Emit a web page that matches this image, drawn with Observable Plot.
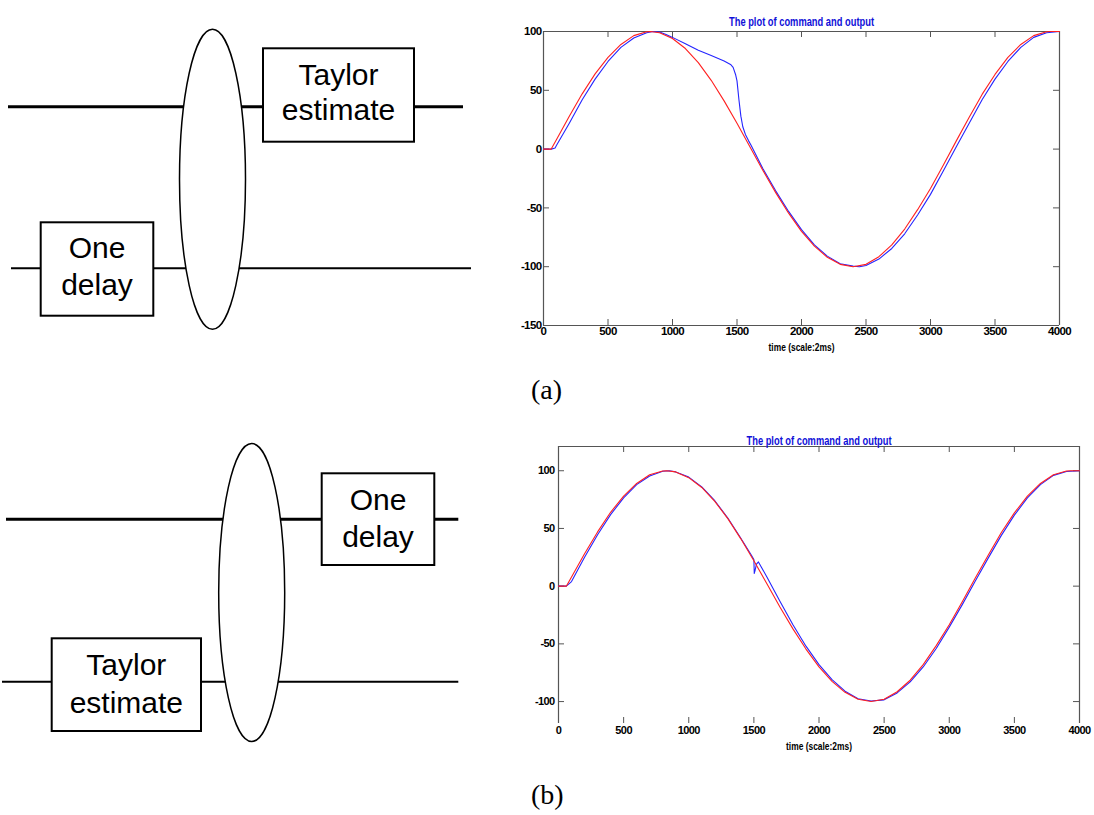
<!DOCTYPE html>
<html><head><meta charset="utf-8">
<script src="https://cdn.jsdelivr.net/npm/d3@7"></script>
<script src="https://cdn.jsdelivr.net/npm/@observablehq/plot@0.6"></script>
<style>
html,body{margin:0;padding:0;background:#fff;}
#page{position:relative;width:1094px;height:815px;overflow:hidden;background:#fff;}
#page > svg, #page > div{position:absolute;}
.cap{font-family:"Liberation Serif","Times New Roman",serif;font-size:28px;color:#000;line-height:1;}
</style></head><body><div id="page"></div>
<script>
// ---------- data ----------
const commandTime  = [0, 60, 100, 200, 300, 400, 500, 600, 700, 800, 830, 900, 1000, 1100, 1200, 1300, 1400, 1500, 1600, 1700, 1800, 1900, 2000, 2100, 2200, 2300, 2400, 2500, 2600, 2700, 2800, 2900, 3000, 3100, 3200, 3300, 3400, 3500, 3600, 3700, 3800, 3900, 3930, 4000];
const commandValue = [0, 0, 8, 28, 47, 64, 78, 89, 96.5, 99.8, 100, 99, 94, 85.5, 73.5, 58.5, 41, 22, 2, -18, -37, -54.5, -70, -82.5, -92, -98, -100, -98, -91.5, -81.5, -68, -51.5, -33.5, -13.5, 7, 27, 46.5, 63.5, 78, 89, 96.5, 99.8, 100, 100];

// output of structure (a)
const outputATime  = [0, 60, 90, 100, 200, 300, 400, 500, 600, 700, 800, 850, 900, 950, 1000, 1100, 1200, 1300, 1400, 1450, 1470, 1490, 1500, 1515, 1530, 1545, 1565, 1590, 1610, 1700, 1800, 1900, 2000, 2100, 2200, 2300, 2400, 2450, 2500, 2600, 2700, 2800, 2900, 3000, 3100, 3200, 3300, 3400, 3500, 3600, 3700, 3800, 3900, 4000];
const outputAValue = [0, 0, 1, 3, 22, 42, 59.5, 74.5, 86.5, 94.5, 99, 100, 99.5, 97.5, 95, 89.5, 84, 79.5, 75, 72, 69.5, 63, 58, 42, 28, 19, 12.5, 7, 3, -16.5, -35.5, -53, -68.5, -81.5, -91, -97.5, -99.5, -100, -99, -93.5, -84.5, -72, -56, -38.5, -18.5, 2, 22, 42, 59.5, 74.5, 86.5, 95, 99, 100];

// output of structure (b)
const outputBTime  = [0, 60, 100, 200, 300, 400, 500, 600, 700, 800, 850, 900, 1000, 1100, 1200, 1300, 1400, 1480, 1500, 1503, 1510, 1520, 1535, 1560, 1600, 1700, 1800, 1900, 2000, 2100, 2200, 2300, 2400, 2500, 2600, 2700, 2800, 2900, 3000, 3100, 3200, 3300, 3400, 3500, 3600, 3700, 3800, 3900, 4000];
const outputBValue = [0, 0, 4, 25, 44.5, 62, 76.5, 88, 95.5, 99.5, 100, 99, 94.5, 86, 74, 59, 41.5, 27, 23, 11, 14, 19, 21, 16, 8, -13, -33.5, -52, -68, -81, -91, -97.5, -99.5, -98.5, -92.5, -83, -70, -54, -35.5, -16, 4.5, 24.5, 44, 61.5, 76.5, 88, 96, 99.3, 100];

const xTicks  = [0, 500, 1000, 1500, 2000, 2500, 3000, 3500, 4000];
const yTicksA = [-150, -100, -50, 0, 50, 100];
const yTicksB = [-100, -50, 0, 50, 100];
const titleText  = "The plot of command and output";
const xLabelText = "time (scale:2ms)";
const captions   = ["(a)", "(b)"];
const blockTaylor = ["Taylor", "estimate"];
const blockDelay  = ["One", "delay"];

// ---------- charts ----------
const page = document.getElementById("page");

function makeChart(o) {
  const cmd = commandTime.map((t, i) => ({t, v: commandValue[i]}));
  const out = o.outT.map((t, i) => ({t, v: o.outV[i]}));
  const pw = o.width - o.ml - o.mr, ph = o.height - o.mt - o.mb;
  const axisCol = "#555";
  const fnt = {fontFamily: "Liberation Sans, Arial, sans-serif", fontWeight: "bold"};
  const marks = [
    Plot.ruleX([0, 4000], {stroke: axisCol, strokeWidth: 1.2}),
    Plot.ruleY([o.yDomain[1]], {stroke: axisCol, strokeWidth: 1.2}),
    o.bottom ? Plot.ruleY([o.yDomain[0]], {stroke: axisCol, strokeWidth: 1.2}) : null,
    Plot.tickX(xTicks, {x: d => d, stroke: axisCol, insetTop: ph - o.tick}),
    Plot.tickX(xTicks, {x: d => d, stroke: axisCol, insetBottom: ph - o.tick}),
    Plot.tickY(o.yTicks, {y: d => d, stroke: axisCol, insetRight: pw - o.tick}),
    Plot.tickY(o.yTicks, {y: d => d, stroke: axisCol, insetLeft: pw - o.tick}),
    Plot.line(out, {x: "t", y: "v", stroke: "#2424ff", strokeWidth: 1.1}),
    Plot.line(cmd, {x: "t", y: "v", stroke: "#ff2020", strokeWidth: 1.1}),
    Plot.text(xTicks, {x: d => d, frameAnchor: "bottom", dy: o.tickDy, text: d => String(d), fontSize: o.tickFs, fill: "#000", ...fnt}),
    Plot.text(o.yTicks, {y: d => d, frameAnchor: "left", textAnchor: "end", dx: o.ylDx, text: d => String(d), fontSize: o.tickFs, fill: "#000", ...fnt}),
    Plot.text([titleText], {frameAnchor: "top", dy: o.titleDy, text: d => d, fontSize: 13, fill: "#1010d8", ...fnt}),
    Plot.text([xLabelText], {frameAnchor: "bottom", dy: o.labelDy, text: d => d, fontSize: 10, fill: "#000", ...fnt})
  ].filter(Boolean);
  const svg = Plot.plot({
    width: o.width, height: o.height,
    marginLeft: o.ml, marginRight: o.mr, marginTop: o.mt, marginBottom: o.mb,
    x: {domain: [0, 4000], axis: null},
    y: {domain: o.yDomain, axis: null},
    style: {background: "transparent", overflow: "visible"},
    marks
  });
  svg.style.left = o.left + "px";
  svg.style.top = o.top + "px";
  d3.select(svg).selectAll("text").each(function() {
    const s = d3.select(this);
    const txt = this.textContent;
    if (txt === titleText) s.attr("textLength", 145).attr("lengthAdjust", "spacingAndGlyphs");
    else if (txt === xLabelText) s.attr("textLength", 66).attr("lengthAdjust", "spacingAndGlyphs");
    else s.attr("letter-spacing", "-0.6");
  });
  page.appendChild(svg);
}

makeChart({left: 500, top: 0, width: 590, height: 370, ml: 43, mr: 31, mt: 31, mb: 45,
  yDomain: [-150, 100], yTicks: yTicksA, outT: outputATime, outV: outputAValue,
  tick: 6, bottom: true, tickDy: 9, ylDx: -2, titleDy: -15, labelDy: 25, tickFs: 11.5});
makeChart({left: 500, top: 420, width: 590, height: 340, ml: 58, mr: 11, mt: 26, mb: 37,
  yDomain: [-119, 121], yTicks: yTicksB, outT: outputBTime, outV: outputBValue,
  tick: 6, bottom: false, tickDy: 10, ylDx: -4, titleDy: -11, labelDy: 26, tickFs: 11});

// ---------- block diagrams ----------
const dia = d3.create("svg").attr("width", 500).attr("height", 815)
  .style("left", "0px").style("top", "0px")
  .attr("font-family", "Liberation Sans, Arial, sans-serif");

function wire(y, x1, x2, w) {
  dia.append("line").attr("x1", x1).attr("x2", x2).attr("y1", y).attr("y2", y)
    .attr("stroke", "#000").attr("stroke-width", w);
}
function block(x, y, w, h, lines, base1, base2) {
  dia.append("rect").attr("x", x).attr("y", y).attr("width", w).attr("height", h)
    .attr("fill", "#fff").attr("stroke", "#000").attr("stroke-width", 2);
  const cx = x + w / 2;
  dia.append("text").attr("x", cx).attr("y", base1).attr("text-anchor", "middle").attr("font-size", 30).text(lines[0]);
  dia.append("text").attr("x", cx).attr("y", base2).attr("text-anchor", "middle").attr("font-size", 30).text(lines[1]);
}
function lens(cx, cy, rx, ry) {
  dia.append("ellipse").attr("cx", cx).attr("cy", cy).attr("rx", rx).attr("ry", ry)
    .attr("fill", "#fff").attr("stroke", "#000").attr("stroke-width", 1.5);
}
// (a)
wire(106.7, 8, 463, 3);
wire(268.3, 11, 471, 2);
lens(212.5, 179.3, 33, 150);
block(263, 48.3, 151, 93.4, blockTaylor, 85, 120);
block(40.7, 222.3, 112.6, 93.4, blockDelay, 258.3, 295);
// (b)
wire(519.3, 6, 458.3, 3);
wire(681.7, 2, 458.3, 2);
lens(251.7, 592.5, 33, 149);
block(321.7, 473.3, 112.6, 91.7, blockDelay, 510, 546.7);
block(51.7, 638.3, 149.3, 92.7, blockTaylor, 675, 713.3);
page.appendChild(dia.node());

// captions
[[captions[0], 531, 376], [captions[1], 531, 781]].forEach(([t, x, y]) => {
  const d = document.createElement("div");
  d.className = "cap";
  d.style.left = x + "px"; d.style.top = y + "px";
  d.textContent = t;
  page.appendChild(d);
});
</script></body></html>
